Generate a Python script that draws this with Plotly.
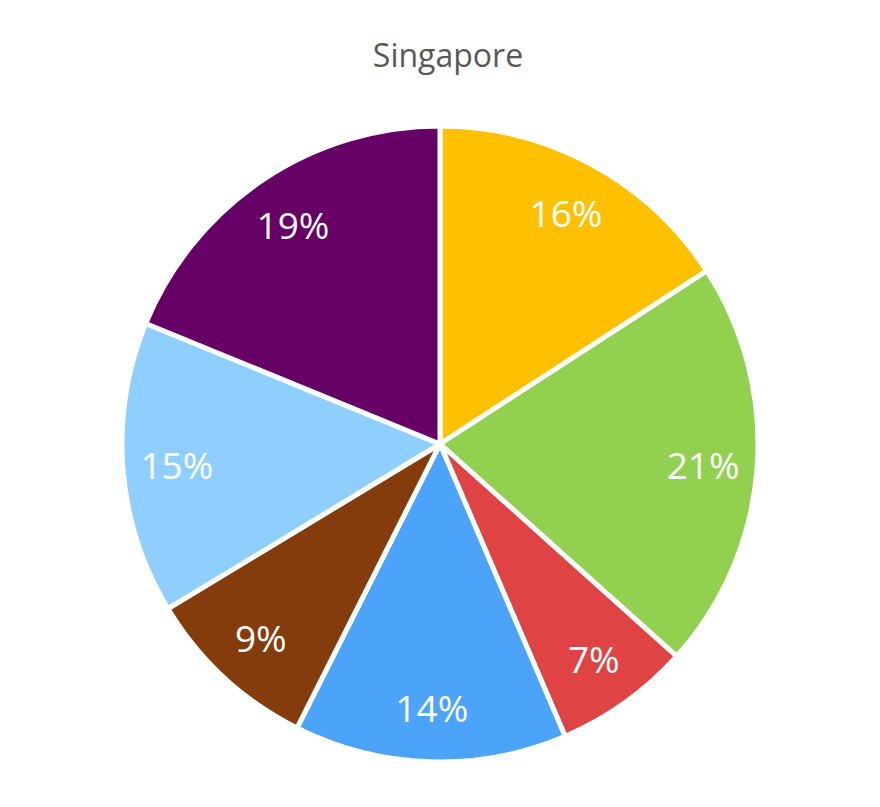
import plotly.graph_objects as go

categories = ["A", "B", "C", "D", "E", "F", "G"]
values = [16, 21, 7, 14, 9, 15, 19]
colors = ["#FFC000", "#92D050", "#E04343", "#4BA3FA", "#843C0C", "#8FCFFF", "#660066"]

common = dict(
    labels=categories,
    values=values,
    sort=False,
    direction="clockwise",
    rotation=0,
    hoverinfo="label+percent",
)

fig = go.Figure()
# full pie (visible slices, no text)
fig.add_trace(go.Pie(
    textinfo="none",
    marker=dict(colors=colors, line=dict(color="white", width=5)),
    **common,
))
# transparent ring overlay carrying the labels near the rim
fig.add_trace(go.Pie(
    hole=0.66,
    marker=dict(colors=["rgba(0,0,0,0)"] * len(values), line=dict(width=0)),
    texttemplate="%{percent:.0%}",
    textposition="inside",
    insidetextorientation="horizontal",
    textfont=dict(family="Open Sans", size=37, color="white"),
    **common,
))

fig.update_layout(
    width=880, height=807,
    margin=dict(l=114, r=130, t=118, b=53),
    paper_bgcolor="white",
    showlegend=False,
    uniformtext=dict(minsize=37, mode="show"),
    title=dict(text="Singapore", x=0.5, xanchor="center", y=0.941, yanchor="middle",
               font=dict(family="Open Sans", size=32, color="#595959")),
)

fig.write_html("out.html")
